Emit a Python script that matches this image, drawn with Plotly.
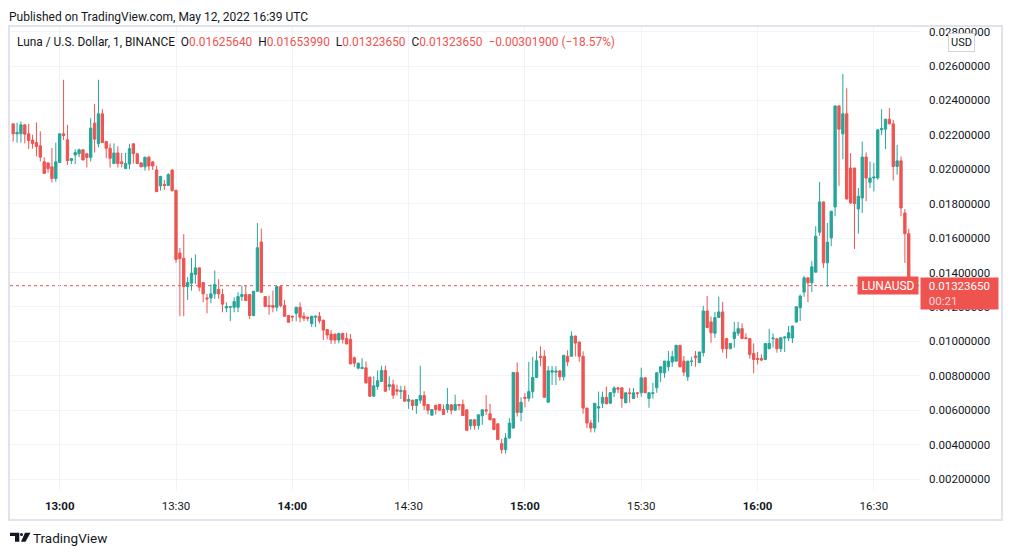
import pandas as pd
import plotly.graph_objects as go

# ---------- LUNA/USD, 1-minute candles, 12 May 2022 12:48 -> 16:39 UTC ----------
opens = [
    0.02264, 0.02206, 0.02206, 0.02258, 0.02206, 0.0217, 0.02155, 0.02136, 0.02043, 0.02037,
    0.02014, 0.01946, 0.02039, 0.02206, 0.02171, 0.0205, 0.02083, 0.0209, 0.02113, 0.0209,
    0.02068, 0.02268, 0.02148, 0.02322, 0.02161, 0.02122, 0.02033, 0.02095, 0.02043, 0.02004,
    0.0203, 0.02148, 0.0209, 0.02037, 0.02014, 0.0207, 0.02043, 0.01996, 0.01903, 0.01912,
    0.01905, 0.01995, 0.01878, 0.01513, 0.01483, 0.01318, 0.01338, 0.01388, 0.01427, 0.01342,
    0.01252, 0.01252, 0.01276, 0.01301, 0.01272, 0.01194, 0.01198, 0.01198, 0.01198, 0.0126,
    0.01272, 0.01272, 0.0115, 0.01291, 0.01577, 0.0126, 0.01208, 0.01208, 0.01198, 0.01318,
    0.01208, 0.0115, 0.01146, 0.01163, 0.01198, 0.01146, 0.0114, 0.01103, 0.0114, 0.01146,
    0.01123, 0.01069, 0.01042, 0.01042, 0.01008, 0.01046, 0.01017, 0.01012, 0.00904, 0.00844,
    0.00842, 0.00846, 0.00792, 0.00681, 0.00738, 0.00767, 0.00831, 0.00738, 0.00748, 0.00719,
    0.00708, 0.00714, 0.00652, 0.00658, 0.00627, 0.00658, 0.00685, 0.00633, 0.00571, 0.00629,
    0.00633, 0.00604, 0.00604, 0.00631, 0.006, 0.00633, 0.00633, 0.00602, 0.0051, 0.00544,
    0.0051, 0.00567, 0.00602, 0.00579, 0.0055, 0.00521, 0.00406, 0.00371, 0.00438, 0.00496,
    0.00819, 0.00587, 0.00675, 0.00669, 0.00708, 0.0079, 0.00913, 0.00913, 0.00646, 0.00821,
    0.00821, 0.00829, 0.00794, 0.00913, 0.00913, 0.01031, 0.00996, 0.00913, 0.00612, 0.00525,
    0.00496, 0.00612, 0.0064, 0.00675, 0.0064, 0.00702, 0.00729, 0.0073, 0.00643, 0.00701,
    0.00668, 0.00701, 0.00701, 0.00788, 0.00668, 0.00697, 0.0073, 0.00817, 0.00817, 0.00852,
    0.0088, 0.00885, 0.00977, 0.00885, 0.00794, 0.00882, 0.00915, 0.00876, 0.00934, 0.01177,
    0.01113, 0.01047, 0.01138, 0.01171, 0.01016, 0.00957, 0.01016, 0.01047, 0.01074, 0.01021,
    0.01016, 0.0093, 0.00901, 0.00901, 0.00895, 0.00957, 0.01015, 0.01015, 0.00957, 0.01019,
    0.01019, 0.01019, 0.01112, 0.01195, 0.01286, 0.01369, 0.0134, 0.01402, 0.01634, 0.0181,
    0.01456, 0.01601, 0.01781, 0.02368, 0.02206, 0.02322, 0.02007, 0.02007, 0.01769, 0.01833,
    0.02071, 0.01924, 0.01949, 0.01949, 0.02229, 0.02233, 0.02291, 0.02264, 0.02016, 0.02049,
    0.01746, 0.0162564,
]
highs = [
    0.02264, 0.0227, 0.02278, 0.0226, 0.02264, 0.022, 0.02272, 0.0222, 0.0207, 0.02038,
    0.02124, 0.02155, 0.02208, 0.0252, 0.02258, 0.02064, 0.02117, 0.0212, 0.02115, 0.02092,
    0.02297, 0.0238, 0.0252, 0.0235, 0.02163, 0.0215, 0.0215, 0.02134, 0.02095, 0.02095,
    0.02148, 0.0215, 0.02092, 0.02039, 0.02072, 0.02078, 0.02045, 0.0202, 0.01962, 0.01938,
    0.01977, 0.02, 0.0188, 0.01543, 0.01623, 0.01373, 0.01485, 0.01505, 0.01429, 0.01344,
    0.01276, 0.0133, 0.01412, 0.01361, 0.01305, 0.01227, 0.01204, 0.01256, 0.01285, 0.01324,
    0.01324, 0.01274, 0.01293, 0.01687, 0.01655, 0.01262, 0.01266, 0.01295, 0.0132, 0.0132,
    0.01241, 0.01152, 0.01148, 0.012, 0.01227, 0.01169, 0.01142, 0.01148, 0.0115, 0.01171,
    0.01125, 0.01071, 0.01065, 0.01044, 0.0105, 0.0105, 0.0105, 0.01042, 0.00912, 0.00875,
    0.00902, 0.00883, 0.00794, 0.00796, 0.00831, 0.00858, 0.00858, 0.00796, 0.00777, 0.00748,
    0.00742, 0.00742, 0.0069, 0.0066, 0.00664, 0.00858, 0.0071, 0.00635, 0.00606, 0.00631,
    0.00635, 0.00633, 0.00729, 0.00633, 0.0069, 0.00635, 0.00662, 0.00604, 0.00546, 0.00546,
    0.00575, 0.00604, 0.00688, 0.00637, 0.00552, 0.00523, 0.00433, 0.00467, 0.00554, 0.00821,
    0.00877, 0.00675, 0.00698, 0.00881, 0.0091, 0.00942, 0.00971, 0.00948, 0.00856, 0.00856,
    0.00856, 0.00831, 0.00921, 0.00948, 0.01058, 0.01033, 0.00998, 0.00942, 0.00614, 0.00544,
    0.00642, 0.00708, 0.00708, 0.00737, 0.00704, 0.00739, 0.00737, 0.00732, 0.00703, 0.0073,
    0.0073, 0.00703, 0.00847, 0.0079, 0.00703, 0.00759, 0.00819, 0.00854, 0.00887, 0.00944,
    0.00944, 0.00979, 0.00979, 0.00915, 0.00887, 0.00911, 0.00944, 0.0094, 0.01206, 0.01264,
    0.01144, 0.01171, 0.0126, 0.01229, 0.01018, 0.0099, 0.01113, 0.01113, 0.01105, 0.01047,
    0.01018, 0.00988, 0.00938, 0.00924, 0.0099, 0.01073, 0.01046, 0.01017, 0.01023, 0.01027,
    0.01089, 0.01091, 0.01203, 0.01272, 0.01379, 0.01371, 0.01466, 0.01669, 0.01926, 0.01812,
    0.01688, 0.01758, 0.0237, 0.0237, 0.02554, 0.02471, 0.02094, 0.02009, 0.01891, 0.02161,
    0.02098, 0.02045, 0.02036, 0.02231, 0.02349, 0.02293, 0.02355, 0.02287, 0.02142, 0.02074,
    0.01769, 0.0165399,
]
lows = [
    0.02161, 0.02155, 0.02155, 0.0215, 0.02118, 0.0212, 0.02074, 0.02045, 0.01974, 0.0198,
    0.01924, 0.01928, 0.02037, 0.0217, 0.02025, 0.0203, 0.0203, 0.0207, 0.02052, 0.0201,
    0.02045, 0.02097, 0.02128, 0.02153, 0.02064, 0.0201, 0.02031, 0.0201, 0.0201, 0.02002,
    0.02, 0.02033, 0.02031, 0.02012, 0.01992, 0.01992, 0.01996, 0.01868, 0.01876, 0.0188,
    0.01903, 0.0187, 0.01456, 0.01146, 0.01146, 0.01241, 0.01295, 0.01334, 0.01291, 0.01227,
    0.01163, 0.01221, 0.01247, 0.01247, 0.01169, 0.01169, 0.01117, 0.01169, 0.0117, 0.01235,
    0.01235, 0.0113, 0.01146, 0.01289, 0.01283, 0.012, 0.01155, 0.01169, 0.01174, 0.01198,
    0.01144, 0.01109, 0.01117, 0.01117, 0.01111, 0.01117, 0.01117, 0.01083, 0.01083, 0.01104,
    0.01008, 0.01012, 0.00985, 0.00985, 0.00988, 0.00988, 0.00983, 0.00867, 0.0085, 0.00838,
    0.00838, 0.00756, 0.00679, 0.00679, 0.00719, 0.00765, 0.00708, 0.00715, 0.00665, 0.00685,
    0.00665, 0.0065, 0.00608, 0.006, 0.00579, 0.00638, 0.006, 0.00575, 0.00569, 0.00575,
    0.00598, 0.00573, 0.00585, 0.00575, 0.00598, 0.006, 0.00567, 0.00481, 0.00487, 0.00487,
    0.00487, 0.00515, 0.00573, 0.00542, 0.00485, 0.00427, 0.00348, 0.00348, 0.00436, 0.00494,
    0.00563, 0.00535, 0.00617, 0.0065, 0.00669, 0.00788, 0.00856, 0.00673, 0.00644, 0.00746,
    0.00746, 0.00771, 0.00771, 0.00856, 0.00911, 0.00913, 0.00881, 0.00579, 0.00496, 0.00471,
    0.00471, 0.00529, 0.00612, 0.00635, 0.00638, 0.00675, 0.007, 0.00614, 0.00641, 0.00643,
    0.00666, 0.00672, 0.00678, 0.00699, 0.00614, 0.00668, 0.00701, 0.00763, 0.00788, 0.00827,
    0.00852, 0.00883, 0.0085, 0.00798, 0.00769, 0.00856, 0.00852, 0.00874, 0.00911, 0.01078,
    0.00992, 0.01021, 0.01136, 0.00934, 0.00901, 0.00955, 0.00963, 0.01031, 0.01014, 0.01014,
    0.00899, 0.00814, 0.00866, 0.00885, 0.00893, 0.00955, 0.00963, 0.00934, 0.00938, 0.00938,
    0.01002, 0.0099, 0.0111, 0.01118, 0.01259, 0.01228, 0.01286, 0.014, 0.01614, 0.01427,
    0.01317, 0.01553, 0.01727, 0.01904, 0.02059, 0.01825, 0.018, 0.01537, 0.01626, 0.01746,
    0.01814, 0.01891, 0.01871, 0.01939, 0.022, 0.02117, 0.02262, 0.01935, 0.01968, 0.01727,
    0.01456, 0.0132365,
]
closes = [
    0.02206, 0.02214, 0.02258, 0.02204, 0.02167, 0.0215, 0.02132, 0.0207, 0.01976, 0.02004,
    0.01946, 0.02043, 0.02206, 0.02196, 0.0205, 0.02062, 0.02097, 0.02113, 0.02054, 0.02068,
    0.02239, 0.02175, 0.02322, 0.02155, 0.02122, 0.02064, 0.02095, 0.02033, 0.02033, 0.02033,
    0.0212, 0.0209, 0.02033, 0.02014, 0.0207, 0.02019, 0.02019, 0.0187, 0.01958, 0.01905,
    0.01969, 0.01876, 0.01476, 0.0148, 0.01318, 0.01342, 0.01396, 0.01427, 0.01315, 0.01276,
    0.01247, 0.01276, 0.0133, 0.01276, 0.01216, 0.01202, 0.01202, 0.01231, 0.0126, 0.01272,
    0.01237, 0.0115, 0.01291, 0.01544, 0.01285, 0.01202, 0.01202, 0.01198, 0.01318, 0.01208,
    0.01146, 0.01111, 0.01142, 0.01198, 0.0114, 0.01134, 0.01134, 0.01146, 0.01146, 0.01119,
    0.01065, 0.01037, 0.01008, 0.01008, 0.01046, 0.01012, 0.00985, 0.00869, 0.00873, 0.00873,
    0.00848, 0.00758, 0.00681, 0.00742, 0.00771, 0.00831, 0.0071, 0.00748, 0.00687, 0.0071,
    0.00714, 0.00652, 0.00662, 0.00627, 0.00662, 0.00685, 0.00627, 0.006, 0.00604, 0.00604,
    0.006, 0.00575, 0.00633, 0.006, 0.00633, 0.00627, 0.00569, 0.00483, 0.00544, 0.0051,
    0.00573, 0.00602, 0.00596, 0.00544, 0.00487, 0.00429, 0.00371, 0.00438, 0.00525, 0.00819,
    0.00587, 0.00646, 0.00669, 0.00708, 0.0079, 0.00887, 0.00906, 0.00675, 0.00829, 0.00829,
    0.00827, 0.00794, 0.00919, 0.00881, 0.01031, 0.0099, 0.00913, 0.00612, 0.00525, 0.00496,
    0.0064, 0.00621, 0.00675, 0.00637, 0.00702, 0.00729, 0.00723, 0.00668, 0.00701, 0.00697,
    0.00701, 0.00697, 0.00788, 0.00701, 0.00701, 0.00701, 0.00817, 0.00852, 0.00885, 0.00885,
    0.00911, 0.00977, 0.00852, 0.00821, 0.00885, 0.00885, 0.00905, 0.00938, 0.01177, 0.0108,
    0.0105, 0.01138, 0.01171, 0.00957, 0.00957, 0.00988, 0.01054, 0.01074, 0.01016, 0.01016,
    0.00924, 0.00895, 0.00895, 0.00891, 0.00988, 0.00988, 0.01019, 0.00957, 0.01021, 0.01025,
    0.0105, 0.01089, 0.01201, 0.01263, 0.01369, 0.0134, 0.01433, 0.01611, 0.0181, 0.01456,
    0.01576, 0.01756, 0.02368, 0.02233, 0.02322, 0.01827, 0.01804, 0.018, 0.01843, 0.02071,
    0.01949, 0.01949, 0.01955, 0.02229, 0.02237, 0.02291, 0.02264, 0.02016, 0.02049, 0.01775,
    0.0162555, 0.0132365,
]
time_labels = ["13:00", "13:30", "14:00", "14:30", "15:00", "15:30", "16:00", "16:30"]
countdown = "00:21"

RED = "#ef5350"
GREEN = "#26a69a"
TEXT = "#131722"
GRID = "#f0f3fa"
FONT = "Roboto, Noto Sans, sans-serif"

times = pd.date_range("2022-05-12 12:48", periods=len(opens), freq="min")
tickvals = [pd.Timestamp("2022-05-12 " + t) for t in time_labels]
ticktext = ["<b>%s</b>" % t if t.endswith(":00") else t for t in time_labels]

last = closes[-1]
change = closes[-1] - closes[-2]
pct = change / closes[-2] * 100


# plot area is 10..920 px wide and 26..491 px tall in the 1012x555 page
def px(x):
    return (x - 10) / 910


def py(y):
    return (491 - y) / 465


fig = go.Figure(go.Candlestick(
    x=times, open=opens, high=highs, low=lows, close=closes,
    increasing=dict(line=dict(color=GREEN, width=1), fillcolor=GREEN),
    decreasing=dict(line=dict(color=RED, width=1), fillcolor=RED),
    whiskerwidth=0,
    hoverinfo="skip",
))

fig.update_layout(
    width=1012, height=555,
    margin=dict(l=10, r=92, t=26, b=64),
    paper_bgcolor="white", plot_bgcolor="white",
    font=dict(family=FONT, color=TEXT, size=12),
    showlegend=False,
    boxgap=0.2, boxgroupgap=0.25,
    xaxis=dict(
        range=[pd.Timestamp("2022-05-12 12:47:11"), pd.Timestamp("2022-05-12 16:41:54")],
        rangeslider=dict(visible=False),
        tickvals=tickvals, ticktext=ticktext,
        showgrid=True, gridcolor=GRID, gridwidth=1,
        zeroline=False, showline=False,
        tickfont=dict(size=11.5, color=TEXT),
        ticks="", ticklabelstandoff=6,
    ),
    yaxis=dict(
        side="right",
        range=[0.001303, 0.028325],
        tick0=0, dtick=0.002, tickformat=".8f",
        showgrid=True, gridcolor=GRID, gridwidth=1,
        zeroline=False, showline=False,
        tickfont=dict(size=11.5, color=TEXT),
        ticks="", ticklabelstandoff=8,
    ),
)

# frame and last-price line
fig.add_shape(type="rect", xref="paper", yref="paper",
              x0=px(9), x1=px(1002), y0=py(520), y1=py(26),
              line=dict(color="#e0e3eb", width=2), layer="above")
fig.add_shape(type="line", xref="paper", yref="y",
              x0=0, x1=1, y0=last, y1=last,
              line=dict(color=RED, width=1, dash="dot"), layer="below")

# header and legend line
fig.add_annotation(x=px(7), y=py(17), xref="paper", yref="paper",
                   xanchor="left", yanchor="middle", showarrow=False,
                   text="Published on TradingView.com, May 12, 2022 16:39 UTC",
                   font=dict(size=12, color=TEXT))

nb = "\u00a0\u00a0"
legend = (
    "Luna / U.S. Dollar, 1, BINANCE" + nb
    + "O<span style='color:%s'>%.8f</span>" % (RED, opens[-1]) + nb
    + "H<span style='color:%s'>%.8f</span>" % (RED, highs[-1]) + nb
    + "L<span style='color:%s'>%.8f</span>" % (RED, lows[-1]) + nb
    + "C<span style='color:%s'>%.8f</span>" % (RED, closes[-1]) + nb
    + "<span style='color:%s'>\u2212%.8f (\u2212%.2f%%)</span>" % (RED, abs(change), abs(pct))
)
fig.add_annotation(x=px(15), y=py(42), xref="paper", yref="paper",
                   xanchor="left", yanchor="middle", showarrow=False,
                   text=legend, font=dict(size=11.9, color=TEXT))

# USD badge on the price scale
fig.add_annotation(x=px(961), y=py(42.5), xref="paper", yref="paper",
                   xanchor="center", yanchor="middle",
                   showarrow=False, text="USD",
                   font=dict(size=11, color=TEXT),
                   bgcolor="white", bordercolor="#d1d4dc", borderwidth=1, borderpad=2)

# last price labels
fig.add_annotation(x=1, y=last, xref="paper", yref="y",
                   xanchor="right", yanchor="middle", xshift=-1,
                   showarrow=False, text="LUNAUSD",
                   font=dict(size=12, color="white"),
                   bgcolor=RED, width=58, height=15, borderpad=1)
pad = "\u00a0\u00a0"
fig.add_annotation(x=1, y=last, xref="paper", yref="y",
                   xanchor="left", yanchor="top", yshift=9,
                   showarrow=False, align="left",
                   text="%s%.8f<br>%s<span style='color:#fcd9d8'>%s</span>" % (pad, last, pad, countdown),
                   font=dict(size=11.5, color="white"),
                   bgcolor=RED, width=73, height=27, borderpad=2)

# TradingView logo
fig.add_shape(type="path", xref="paper", yref="paper",
              path="M %f %f L %f %f L %f %f L %f %f L %f %f L %f %f Z" % (
                  px(10), py(532.7), px(19.3), py(532.7), px(19.3), py(541.7),
                  px(15), py(541.7), px(15), py(536), px(10), py(536)),
              fillcolor=TEXT, line=dict(width=0))
fig.add_shape(type="circle", xref="paper", yref="paper",
              x0=px(20), x1=px(23), y0=py(536), y1=py(533),
              fillcolor=TEXT, line=dict(width=0))
fig.add_shape(type="path", xref="paper", yref="paper",
              path="M %f %f L %f %f L %f %f L %f %f Z" % (
                  px(25), py(532.7), px(30.5), py(532.7),
                  px(25.5), py(541.7), px(21), py(541.7)),
              fillcolor=TEXT, line=dict(width=0))
fig.add_annotation(x=px(31), y=py(537.5), xref="paper", yref="paper",
                   xanchor="left", yanchor="middle", showarrow=False,
                   text="TradingView", font=dict(size=13.5, color=TEXT))

fig.write_html(
    "out.html",
    config={"displayModeBar": False},
    post_script="document.body.style.margin='0';document.body.style.overflow='hidden';",
)
